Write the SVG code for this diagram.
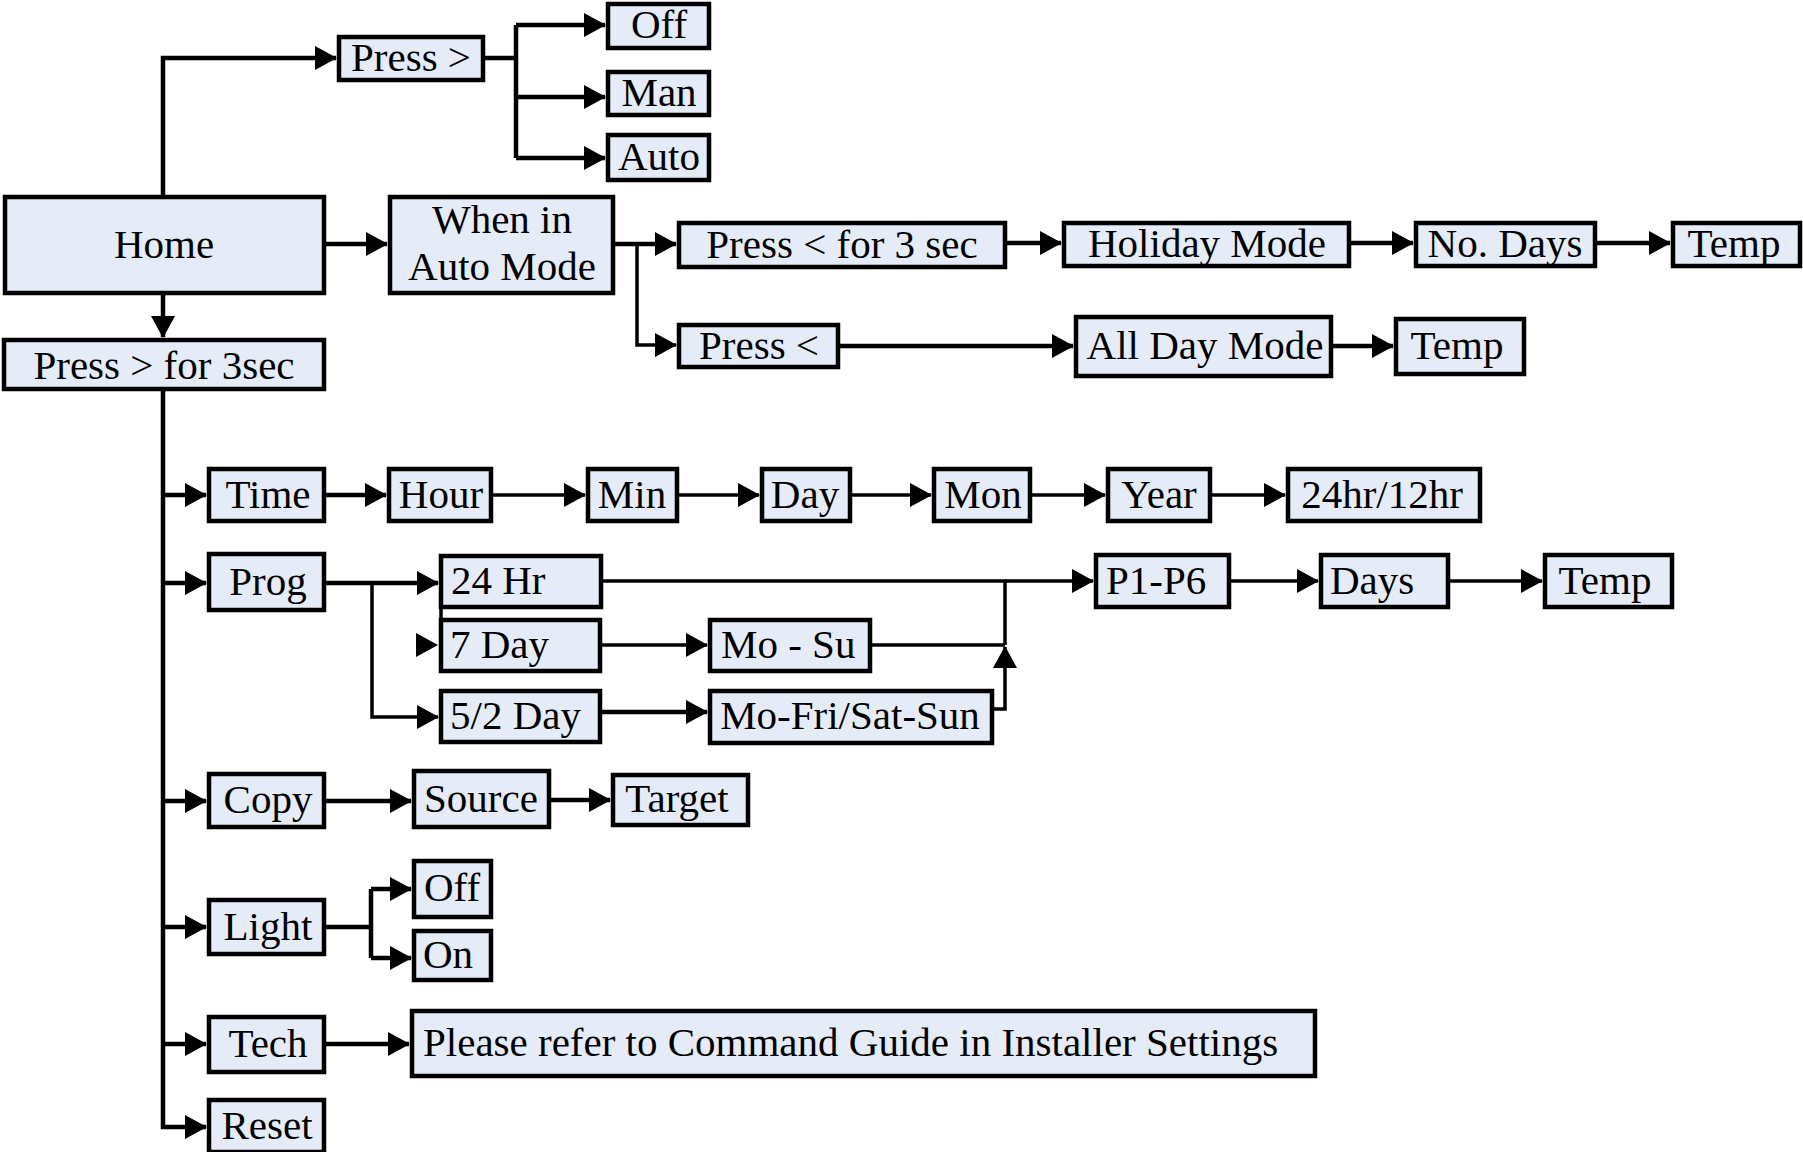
<svg xmlns="http://www.w3.org/2000/svg" width="1803" height="1152" viewBox="0 0 1803 1152">
<style>
.b{fill:#E5ECF7;stroke:#000;stroke-width:4.5}
.t{font-family:"Liberation Serif","Times New Roman",serif;font-size:41px;fill:#000;text-anchor:middle}
.s{text-anchor:start}
.c{fill:none;stroke:#000;stroke-width:4.5}
.th{stroke-width:3.5}
.a{marker-end:url(#ah)}
</style>
<defs>
<marker id="ah" markerUnits="userSpaceOnUse" viewBox="0 0 22 24" refX="21" refY="12" markerWidth="22" markerHeight="24" orient="auto">
<path d="M0,0 L22,12 L0,24 z" fill="#000"/>
</marker>
</defs>
<rect width="1803" height="1152" fill="#fff"/>
<g id="connectors">
<path class="c a" d="M163,196 V58 H336"/>
<path class="c" d="M485,58 H516 M516,25 V158"/>
<path class="c a" d="M516,25 H605"/>
<path class="c a" d="M516,97 H605"/>
<path class="c a" d="M516,158 H605"/>
<path class="c a" d="M326,244 H387"/>
<path class="c a" d="M163,295 V337"/>
<path class="c a" d="M615,244 H676"/>
<path class="c th a" d="M637,244 V345 H676"/>
<path class="c a" d="M1007,243 H1061"/>
<path class="c a" d="M1351,243 H1413"/>
<path class="c a" d="M1597,243 H1670"/>
<path class="c a" d="M840,346 H1073"/>
<path class="c a" d="M1333,346 H1393"/>
<path class="c a" d="M163,391 V1127 H206"/>
<path class="c a" d="M163,495 H206"/>
<path class="c a" d="M163,583 H206"/>
<path class="c a" d="M163,801 H206"/>
<path class="c a" d="M163,927 H206"/>
<path class="c a" d="M163,1044 H206"/>
<path class="c a" d="M326,495 H386"/>
<path class="c th a" d="M493,495 H585"/>
<path class="c th a" d="M679,495 H759"/>
<path class="c th a" d="M852,495 H931"/>
<path class="c th a" d="M1032,495 H1105"/>
<path class="c th a" d="M1212,495 H1285"/>
<path class="c a" d="M326,583 H438"/>
<path class="c th a" d="M372,583 V717 H438"/>
<path d="M416,633 L438,645 L416,657 z" fill="#000"/>
<path class="c th" d="M441,607 V620"/>
<path class="c th a" d="M602,645 H707"/>
<path class="c a" d="M602,712 H707"/>
<path class="c th" d="M872,645 H1005 M603,581 H1005 V645"/>
<path class="c th a" d="M994,709 H1005 V647"/>
<path class="c th a" d="M1005,581 H1093"/>
<path class="c th a" d="M1231,581 H1318"/>
<path class="c th a" d="M1450,581 H1542"/>
<path class="c a" d="M326,801 H411"/>
<path class="c a" d="M551,800 H610"/>
<path class="c" d="M326,927 H371 M371,889 V958"/>
<path class="c a" d="M371,889 H411"/>
<path class="c a" d="M371,958 H411"/>
<path class="c a" d="M326,1044 H409"/>
</g>
<g id="home"><rect class="b" x="5" y="197" width="319" height="96"/><text class="t" x="164" y="258">Home</text></g>
<g id="press-right"><rect class="b" x="339" y="37" width="144" height="43"/><text class="t" x="411" y="71">Press &gt;</text></g>
<g id="off-top"><rect class="b" x="608" y="4" width="101" height="44"/><text class="t" x="659" y="38">Off</text></g>
<g id="man"><rect class="b" x="608" y="72" width="101" height="43"/><text class="t" x="659" y="106">Man</text></g>
<g id="auto"><rect class="b" x="608" y="135" width="101" height="45"/><text class="t" x="659" y="170">Auto</text></g>
<g id="when-auto"><rect class="b" x="390" y="197" width="223" height="96"/><text class="t" x="502" y="233">When in</text><text class="t" x="502" y="280">Auto Mode</text></g>
<g id="press-right-3sec"><rect class="b" x="4" y="340" width="320" height="49"/><text class="t" x="164" y="379">Press &gt; for 3sec</text></g>
<g id="press-left-3sec"><rect class="b" x="679" y="223" width="326" height="44"/><text class="t" x="842" y="258">Press &lt; for 3 sec</text></g>
<g id="holiday"><rect class="b" x="1064" y="223" width="285" height="43"/><text class="t" x="1207" y="257">Holiday Mode</text></g>
<g id="no-days"><rect class="b" x="1416" y="223" width="179" height="43"/><text class="t" x="1505" y="257">No. Days</text></g>
<g id="temp-holiday"><rect class="b" x="1673" y="223" width="127" height="43"/><text class="t" x="1734" y="257">Temp</text></g>
<g id="press-left"><rect class="b" x="679" y="325" width="159" height="42"/><text class="t" x="759" y="359">Press &lt;</text></g>
<g id="all-day"><rect class="b" x="1076" y="317" width="255" height="59"/><text class="t" x="1205" y="359">All Day Mode</text></g>
<g id="temp-allday"><rect class="b" x="1396" y="319" width="128" height="55"/><text class="t" x="1457" y="359">Temp</text></g>
<g id="time"><rect class="b" x="209" y="469" width="115" height="52"/><text class="t" x="268" y="508">Time</text></g>
<g id="hour"><rect class="b" x="389" y="469" width="102" height="52"/><text class="t" x="441" y="508">Hour</text></g>
<g id="min"><rect class="b" x="588" y="469" width="89" height="52"/><text class="t" x="632" y="508">Min</text></g>
<g id="day"><rect class="b" x="762" y="469" width="88" height="52"/><text class="t" x="805" y="508">Day</text></g>
<g id="mon"><rect class="b" x="934" y="469" width="96" height="52"/><text class="t" x="983" y="508">Mon</text></g>
<g id="year"><rect class="b" x="1108" y="469" width="102" height="52"/><text class="t" x="1159" y="508">Year</text></g>
<g id="hr-format"><rect class="b" x="1288" y="469" width="192" height="52"/><text class="t" x="1382" y="508">24hr/12hr</text></g>
<g id="prog"><rect class="b" x="209" y="554" width="115" height="56"/><text class="t" x="268" y="595">Prog</text></g>
<g id="hr24"><rect class="b" x="441" y="556" width="160" height="51"/><text class="t s" x="451" y="594">24 Hr</text></g>
<g id="day7"><rect class="b" x="441" y="620" width="159" height="51"/><text class="t s" x="450" y="658">7 Day</text></g>
<g id="day52"><rect class="b" x="441" y="691" width="159" height="51"/><text class="t s" x="450" y="729">5/2 Day</text></g>
<g id="mo-su"><rect class="b" x="710" y="620" width="160" height="51"/><text class="t s" x="721" y="658">Mo - Su</text></g>
<g id="mo-fri"><rect class="b" x="710" y="691" width="282" height="52"/><text class="t" x="850" y="729">Mo-Fri/Sat-Sun</text></g>
<g id="p1p6"><rect class="b" x="1096" y="555" width="133" height="52"/><text class="t s" x="1106" y="594">P1-P6</text></g>
<g id="days"><rect class="b" x="1321" y="555" width="127" height="52"/><text class="t s" x="1330" y="594">Days</text></g>
<g id="temp-prog"><rect class="b" x="1545" y="555" width="127" height="52"/><text class="t" x="1605" y="594">Temp</text></g>
<g id="copy"><rect class="b" x="209" y="774" width="115" height="53"/><text class="t" x="268" y="813">Copy</text></g>
<g id="source"><rect class="b" x="414" y="771" width="135" height="56"/><text class="t" x="481" y="812">Source</text></g>
<g id="target"><rect class="b" x="613" y="775" width="135" height="50"/><text class="t" x="677" y="812">Target</text></g>
<g id="light"><rect class="b" x="209" y="900" width="115" height="54"/><text class="t" x="268" y="940">Light</text></g>
<g id="light-off"><rect class="b" x="414" y="861" width="77" height="56"/><text class="t s" x="424" y="901">Off</text></g>
<g id="light-on"><rect class="b" x="414" y="931" width="77" height="49"/><text class="t s" x="423" y="968">On</text></g>
<g id="tech"><rect class="b" x="209" y="1017" width="115" height="55"/><text class="t" x="268" y="1057">Tech</text></g>
<g id="refer"><rect class="b" x="412" y="1011" width="903" height="65"/><text class="t s" x="423" y="1056">Please refer to Command Guide in Installer Settings</text></g>
<g id="reset"><rect class="b" x="209" y="1100" width="115" height="52"/><text class="t" x="267" y="1139">Reset</text></g>
</svg>
